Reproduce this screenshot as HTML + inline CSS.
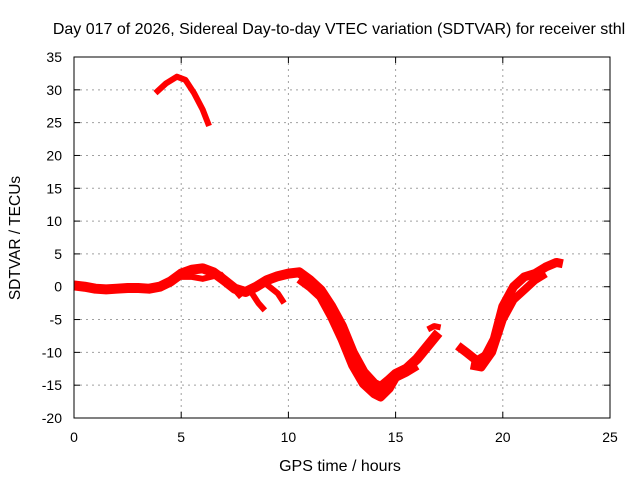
<!DOCTYPE html>
<html><head><meta charset="utf-8"><style>
body{margin:0;background:#fff}
svg{display:block;font-family:"Liberation Sans",sans-serif}
</style></head><body>
<svg width="640" height="480">
<rect width="640" height="480" fill="#fff"/>
<g id="grid"></g>
<g id="axes"></g>
<g id="series"></g>
<rect x="74" y="57" width="536" height="361" fill="none" stroke="#000" stroke-width="1"/>
<text x="339" y="34" text-anchor="middle" font-size="16">Day 017 of 2026, Sidereal Day-to-day VTEC variation (SDTVAR) for receiver sthl</text>
<text x="340" y="471" text-anchor="middle" font-size="16">GPS time / hours</text>
<text transform="translate(20,238) rotate(-90)" text-anchor="middle" font-size="15.5">SDTVAR / TECUs</text>
</svg>
<script>
const xTicks=[0,5,10,15,20,25];
const yTicks=[-20,-15,-10,-5,0,5,10,15,20,25,30,35];
const mainHours=[0,0.5,1,1.5,2,2.5,3,3.5,4,4.5,5,5.5,6,6.5,7,7.5,8,8.5,9,9.5,10,10.5,11,11.5,12,12.5,13,13.5,14,14.3,14.7,15,15.5,16,16.5,17];
const mainValues=[0.2,0,-0.3,-0.4,-0.3,-0.2,-0.2,-0.3,0,0.8,2,2.6,2.8,2.2,1,-0.3,-0.8,0,1,1.6,2,2.2,1,-0.5,-3,-6,-10,-13,-14.8,-15.3,-14.2,-13.3,-12.5,-11,-9,-7];
const lowHours=[10.5,11,11.5,12,12.5,13,13.5,14,14.3,14.7,15,15.5,16];
const lowValues=[1.2,0,-1.5,-4.5,-8,-12,-14.8,-16.3,-16.8,-15.5,-13.8,-13,-12];
const topHours=[3.8,4.3,4.8,5.2,5.6,6,6.3];
const topValues=[29.5,31,32,31.5,29.5,27,24.5];
const armHours=[5,5.5,6,6.5];
const armValues=[1.5,1.5,1.2,1.6];
const branch1Hours=[6.8,7.3,7.8];
const branch1Values=[2,0.3,-1.6];
const branch2Hours=[8.3,8.6,8.9];
const branch2Values=[-1,-2.5,-3.6];
const branch3Hours=[9,9.5,9.8];
const branch3Values=[0.3,-1,-2.5];
const stubHours=[16.5,16.8,17.1];
const stubValues=[-6.5,-6,-6.2];
const eveHours=[17.9,18.3,18.8,19.2,19.6,20,20.5,21,21.5,22,22.5,22.8];
const eveValues=[-9,-10,-11.3,-10.5,-8,-3,0,1.5,2,3,3.7,3.5];
const eveLowHours=[18.5,19,19.5,20,20.5,21,21.5,22];
const eveLowValues=[-12,-12.3,-10,-5,-2,-0.5,1,2];
const X=h=>74+h*536/25, Y=v=>418-(v+20)*361/55;
const NS="http://www.w3.org/2000/svg";
const grid=document.getElementById('grid'),axes=document.getElementById('axes'),ser=document.getElementById('series');
function mk(t,a,p){const e=document.createElementNS(NS,t);for(const k in a)e.setAttribute(k,a[k]);p.appendChild(e);return e;}
xTicks.forEach(t=>{const x=X(t);
 if(t>0&&t<25){const g=mk('line',{x1:x,x2:x,y1:57,y2:418,stroke:'#a0a0a0','stroke-dasharray':'2,4'},grid);
 
 }
 mk('line',{x1:x,x2:x,y1:418,y2:412,stroke:'#000'},axes);mk('line',{x1:x,x2:x,y1:57,y2:63,stroke:'#000'},axes);
 const l=mk('text',{x:x,y:442,'text-anchor':'middle','font-size':'14'},axes);l.textContent=t;
 
 });
yTicks.forEach(t=>{const y=Y(t);
 if(t>-20&&t<35){const g=mk('line',{x1:74,x2:610,y1:y,y2:y,stroke:'#a0a0a0','stroke-dasharray':'2,4'},grid);
 
 }
 mk('line',{x1:74,x2:80,y1:y,y2:y,stroke:'#000'},axes);mk('line',{x1:610,x2:604,y1:y,y2:y,stroke:'#000'},axes);
 const l=mk('text',{x:62,y:y+5,'text-anchor':'end','font-size':'14'},axes);l.textContent=t;
 
 });
function draw(hs,vs,w,name){const pts=hs.map((h,i)=>X(h)+','+Y(vs[i])).join(' ');
 const p=mk('polyline',{points:pts,fill:'none',stroke:'#ff0000','stroke-width':w,'stroke-linejoin':'round','stroke-linecap':'butt'},ser);
 
 }
draw(mainHours,mainValues,10,'series-main');
draw(lowHours,lowValues,9,'series-main-lower');
draw(topHours,topValues,6,'series-top');
draw(armHours,armValues,6,'series-arm');
draw(branch1Hours,branch1Values,6,'series-branch-1');
draw(branch2Hours,branch2Values,6,'series-branch-2');
draw(branch3Hours,branch3Values,6,'series-branch-3');
draw(stubHours,stubValues,6,'series-stub');
draw(eveHours,eveValues,9,'series-evening');
draw(eveLowHours,eveLowValues,8,'series-evening-lower');
</script>
</body></html>
